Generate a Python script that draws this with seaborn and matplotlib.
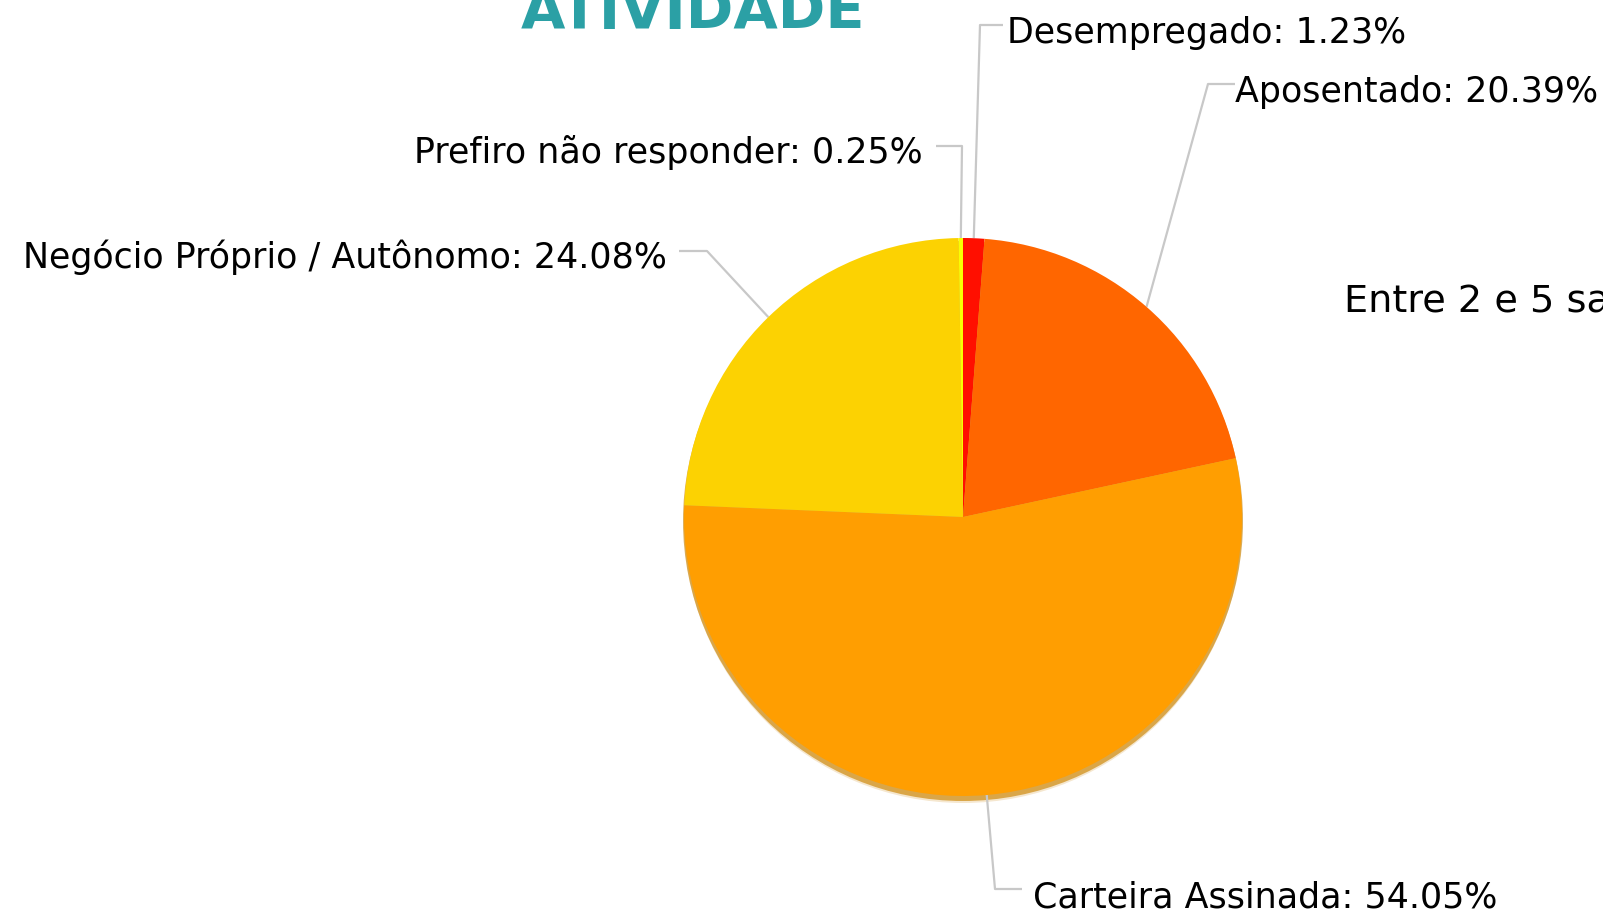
import numpy as np
import matplotlib
matplotlib.use("Agg")
import matplotlib.pyplot as plt
from matplotlib.patches import Circle
import seaborn as sns

# data, clockwise from 12 o'clock
labels = ["Desempregado", "Aposentado", "Carteira Assinada",
          "Negócio Próprio / Autônomo", "Prefiro não responder"]
shares = [1.23, 20.39, 54.05, 24.08, 0.25]
slice_colors = ["#ff0f00", "#ff6600", "#ff9e01", "#fcd202", "#f8ff01"]
title = "ATIVIDADE"
next_chart_text = "Entre 2 e 5 salários"

W, H = 1603, 910
CX, CY, R = 963, 517, 279

# label layout in pixel coords: elbow, line end, text anchor (baseline), alignment
label_layout = {
    "Desempregado": dict(elbow=(980, 25), end=(1003, 25), text=(1007, 43), ha="left"),
    "Aposentado": dict(elbow=(1208, 84), end=(1235, 84), text=(1235, 102), ha="left"),
    "Carteira Assinada": dict(elbow=(995, 889), end=(1022, 889), text=(1033, 907), ha="left"),
    "Negócio Próprio / Autônomo": dict(elbow=(707, 251), end=(679, 251), text=(667, 268), ha="right"),
    "Prefiro não responder": dict(elbow=(962, 146), end=(936, 146), text=(923, 163), ha="right"),
}


def fy(y):
    # pixel row (top-down) -> data y (bottom-up)
    return H - y


sns.set_theme(style="white")
plt.rcParams["font.family"] = ["DejaVu Sans"]

fig = plt.figure(figsize=(W / 100, H / 100), dpi=100)
ax = fig.add_axes([0, 0, 1, 1])

# soft shadow under the pie
ax.add_patch(Circle((CX, fy(CY + 4)), R + 1, color="#cc8400", alpha=0.65, lw=0, zorder=1))
ax.add_patch(Circle((CX, fy(CY + 7)), R, color="#e0b060", alpha=0.3, lw=0, zorder=0.5))

palette = sns.color_palette(slice_colors)
wedges, _ = ax.pie(shares, colors=palette, startangle=90, counterclock=False,
                   center=(CX, fy(CY)), radius=R,
                   wedgeprops=dict(linewidth=0, zorder=2))

cum = np.cumsum([0] + shares[:-1])
for lab, before, v in zip(labels, cum, shares):
    a = np.deg2rad(360 * (before + v / 2) / 100)
    ex, ey = CX + R * np.sin(a), CY - R * np.cos(a)
    lay = label_layout[lab]
    xs = [ex, lay["elbow"][0], lay["end"][0]]
    ys = [fy(ey), fy(lay["elbow"][1]), fy(lay["end"][1])]
    ax.plot(xs, ys, color="#c8c8c8", lw=1.6, zorder=1.5, solid_capstyle="butt")
    ax.text(lay["text"][0], fy(lay["text"][1]), f"{lab}: {v:.2f}%",
            ha=lay["ha"], va="baseline", fontsize=25.1, color="black", zorder=3)

ax.text(693, fy(29), title, ha="center", va="baseline", fontsize=41.3,
        fontweight="bold", color="#2ba0a5")
ax.text(1344, fy(312), next_chart_text, ha="left", va="baseline",
        fontsize=27.5, color="black")

ax.set_xlim(0, W)
ax.set_ylim(0, H)
ax.set_aspect("equal")
ax.axis("off")

fig.savefig("out.png", dpi=100, facecolor="white")
